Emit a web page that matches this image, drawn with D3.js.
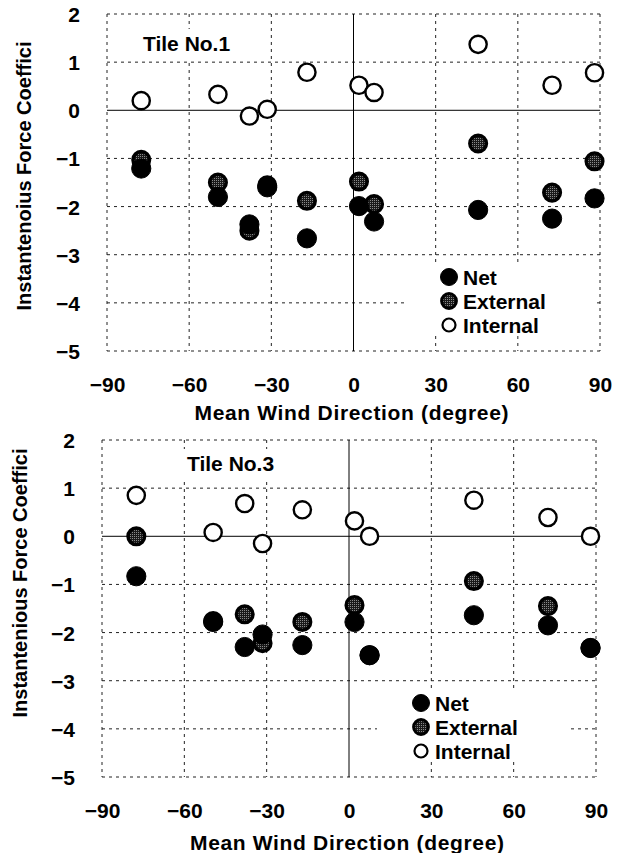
<!DOCTYPE html>
<html>
<head>
<meta charset="utf-8">
<script src="https://cdn.jsdelivr.net/npm/d3@7"></script>
<style>
  body { margin: 0; background: #fff; }
  svg text { font-family: "Liberation Sans", Arial, sans-serif; font-weight: bold; fill: #000; }
</style>
</head>
<body>
<svg id="chart" width="626" height="853"></svg>
<script>
// wind directions (degree) shared by both tiles
const directions = [-77.5, -49.5, -38, -31.5, -17, 2, 7.5, 45.5, 72.5, 88];

// Tile No.1
const net1      = [-1.21, -1.8, -2.37, -1.6, -2.66, -1.99, -2.31, -2.07, -2.25, -1.83];
const external1 = [-1.03, -1.5, -2.5, -1.56, -1.88, -1.48, -1.95, -0.69, -1.71, -1.06];
const internal1 = [0.2, 0.33, -0.12, 0.02, 0.79, 0.52, 0.37, 1.37, 0.52, 0.78];

// Tile No.3
const net3      = [-0.83, -1.78, -2.3, -2.04, -2.26, -1.78, -2.47, -1.64, -1.85, -2.32];
const external3 = [0.0, -1.76, -1.62, -2.22, -1.78, -1.43, -2.47, -0.93, -1.45, -2.32];
const internal3 = [0.85, 0.08, 0.68, -0.15, 0.55, 0.32, 0.0, 0.75, 0.39, 0.0];

const xTicks = [-90, -60, -30, 0, 30, 60, 90];
const yTicks = [2, 1, 0, -1, -2, -3, -4, -5];
const seriesNames = ["Net", "External", "Internal"];

const svg = d3.select("#chart");

// speckled grey centre for the "External" marks
const defs = svg.append("defs");
const pat = defs.append("pattern").attr("id", "speckle")
    .attr("width", 2).attr("height", 2).attr("patternUnits", "userSpaceOnUse");
pat.append("rect").attr("width", 2).attr("height", 2).attr("fill", "#1a1a1a");
pat.append("rect").attr("width", 1).attr("height", 1).attr("fill", "#8a8a8a");

function markStyle(sel, name) {
    if (name === "Net") {
        sel.attr("fill", "#000").attr("stroke", "#000").attr("stroke-width", 1);
    } else if (name === "External") {
        sel.attr("fill", "url(#speckle)").attr("stroke", "#000").attr("stroke-width", 3.5);
    } else {
        sel.attr("fill", "#fff").attr("stroke", "#000").attr("stroke-width", 2.4);
    }
}

function drawPanel(p) {
    const x = d3.scaleLinear().domain([-90, 90]).range([p.left, p.right]);
    const y = d3.scaleLinear().domain([-5, 2]).range([p.bottom, p.top]);
    const g = svg.append("g");

    // dashed grid
    g.selectAll(".vgrid").data(xTicks.filter(d => d !== 0)).enter().append("line")
        .attr("x1", d => x(d)).attr("x2", d => x(d))
        .attr("y1", p.top).attr("y2", p.bottom)
        .attr("stroke", "#222").attr("stroke-width", 1).attr("stroke-dasharray", "3,4");
    g.selectAll(".hgrid").data(yTicks.filter(d => d !== 0)).enter().append("line")
        .attr("x1", p.left).attr("x2", p.right)
        .attr("y1", d => y(d)).attr("y2", d => y(d))
        .attr("stroke", "#222").attr("stroke-width", 1).attr("stroke-dasharray", "3,4");

    // title box and legend box hide the grid
    g.append("rect").attr("x", p.titleX - 8).attr("y", p.titleY - 22)
        .attr("width", 112).attr("height", 30).attr("fill", "#fff");
    g.append("rect").attr("x", p.legX - 44).attr("y", p.legY - 15)
        .attr("width", 190).attr("height", 72).attr("fill", "#fff");

    // solid zero lines
    g.append("line").attr("x1", x(0)).attr("x2", x(0)).attr("y1", p.top).attr("y2", p.bottom)
        .attr("stroke", "#000").attr("stroke-width", 1);
    g.append("line").attr("x1", p.left).attr("x2", p.right).attr("y1", y(0)).attr("y2", y(0))
        .attr("stroke", "#000").attr("stroke-width", 1);

    // axes (labels only)
    const xAxis = g.append("g").attr("transform", `translate(0,${p.bottom + 38})`)
        .call(d3.axisBottom(x).tickValues(xTicks).tickSize(0).tickFormat(d3.format("d")));
    xAxis.select(".domain").remove();
    xAxis.selectAll("text").attr("font-size", 21).attr("font-family", null).attr("dy", 0);

    const yAxis = g.append("g").attr("transform", `translate(${p.left - 27},0)`)
        .call(d3.axisLeft(y).tickValues(yTicks).tickSize(0).tickFormat(d3.format("d")));
    yAxis.select(".domain").remove();
    yAxis.selectAll("text").attr("font-size", 21).attr("font-family", null)
        .attr("dy", "0.36em").attr("x", 0);

    g.append("text").attr("x", (p.left + p.right) / 2 - 2).attr("y", p.xTitleY)
        .attr("text-anchor", "middle").attr("font-size", 21)
        .attr("textLength", 314).attr("lengthAdjust", "spacing")
        .text("Mean Wind Direction (degree)");
    g.append("text").attr("transform", `translate(${p.yTitleX},${p.yTitleMid}) rotate(-90)`)
        .attr("text-anchor", "middle").attr("font-size", 20)
        .text(p.yTitle);

    g.append("text").attr("x", p.titleX).attr("y", p.titleY).attr("font-size", 21).text(p.title);

    // marks
    const radius = { Net: 9.6, External: 8.3, Internal: 8.6 };
    const series = [
        { name: "External", values: p.external },
        { name: "Net", values: p.net },
        { name: "Internal", values: p.internal }
    ];
    series.forEach(s => {
        g.selectAll(null).data(s.values).enter().append("circle")
            .attr("cx", (d, i) => x(directions[i]))
            .attr("cy", d => y(d))
            .attr("r", radius[s.name])
            .call(markStyle, s.name);
    });

    // legend
    const legR = { Net: 8.5, External: 7.4, Internal: 6.5 };
    const leg = g.append("g").attr("transform", `translate(${p.legX},${p.legY})`);
    seriesNames.forEach((name, i) => {
        leg.append("circle").attr("cx", 0).attr("cy", i * 24).attr("r", legR[name])
            .call(markStyle, name)
            .attr("stroke-width", name === "Internal" ? 2.2 : (name === "External" ? 3 : 1));
        leg.append("text").attr("x", 14).attr("y", i * 24).attr("dy", "0.36em")
            .attr("font-size", 21).text(name);
    });
}

drawPanel({
    left: 107, right: 600, top: 14, bottom: 351,
    net: net1, external: external1, internal: internal1,
    title: "Tile No.1", titleX: 143, titleY: 51,
    yTitle: "Instantenoius Force Coeffici", yTitleX: 31, yTitleMid: 176,
    xTitleY: 420, legX: 449, legY: 277
});

drawPanel({
    left: 102, right: 596, top: 440, bottom: 777,
    net: net3, external: external3, internal: internal3,
    title: "Tile No.3", titleX: 187, titleY: 471,
    yTitle: "Instantenious Force Coeffici", yTitleX: 27, yTitleMid: 583,
    xTitleY: 850, legX: 421, legY: 703
});
</script>
</body>
</html>
